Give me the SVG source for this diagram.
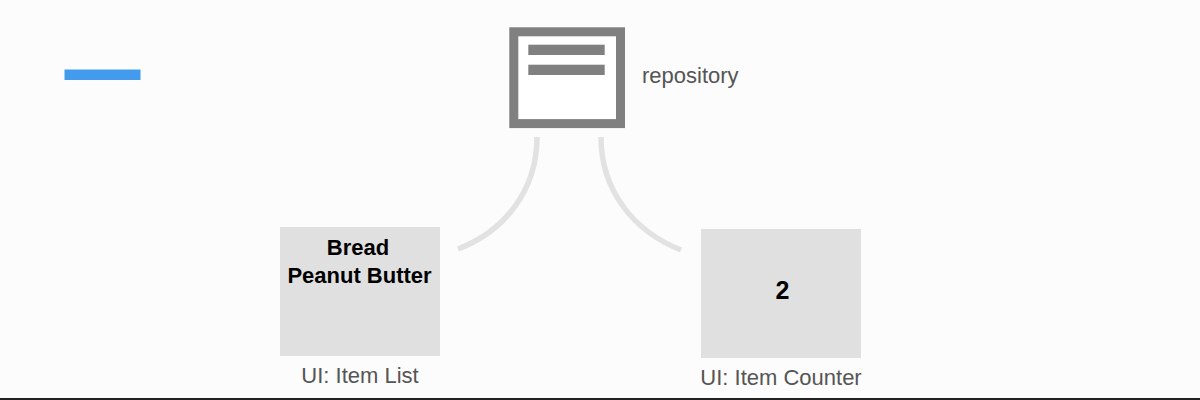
<svg xmlns="http://www.w3.org/2000/svg" width="1200" height="400" viewBox="0 0 1200 400">
<style>
text{font-family:"Liberation Sans",Arial,sans-serif}
.lbl{font-size:22px;fill:#555}
.val{font-size:22px;font-weight:bold;fill:#000;text-anchor:middle}
.ui{fill:#e0e0e0}
.bar{fill:#808080}
.conn{fill:none;stroke:#e2e2e2;stroke-width:5.500}
</style>
<rect width="1200" height="400" fill="#fcfcfc"/>
<rect x="0" y="398" width="1200" height="2" fill="#222"/>
<g id="indicator"><rect x="64.500" y="69.500" width="76" height="10.500" fill="#429bec"/></g>
<g id="repository">
<rect x="513.800" y="31.800" width="106.700" height="91.800" fill="#fff" stroke="#808080" stroke-width="9"/>
<rect class="bar" x="528.300" y="44.700" width="76.400" height="10.300"/>
<rect class="bar" x="528.300" y="64.700" width="76.400" height="10.300"/>
<text class="lbl" x="642" y="83">repository</text>
</g>
<g id="connectors">
<path class="conn" d="M537 137C537 190 505 231 458 249"/>
<path class="conn" d="M601 137C601 190 633 231 681 250"/>
</g>
<g id="item-list">
<rect class="ui" x="280" y="227" width="160" height="129"/>
<text class="val" x="358" y="255">Bread</text>
<text class="val" x="359.500" y="283">Peanut Butter</text>
<text class="lbl" x="360" y="383" text-anchor="middle">UI: Item List</text>
</g>
<g id="item-counter">
<rect class="ui" x="701" y="229" width="160" height="129"/>
<text class="val" x="782.500" y="299" style="font-size:25px">2</text>
<text class="lbl" x="781" y="385" text-anchor="middle">UI: Item Counter</text>
</g>
</svg>
